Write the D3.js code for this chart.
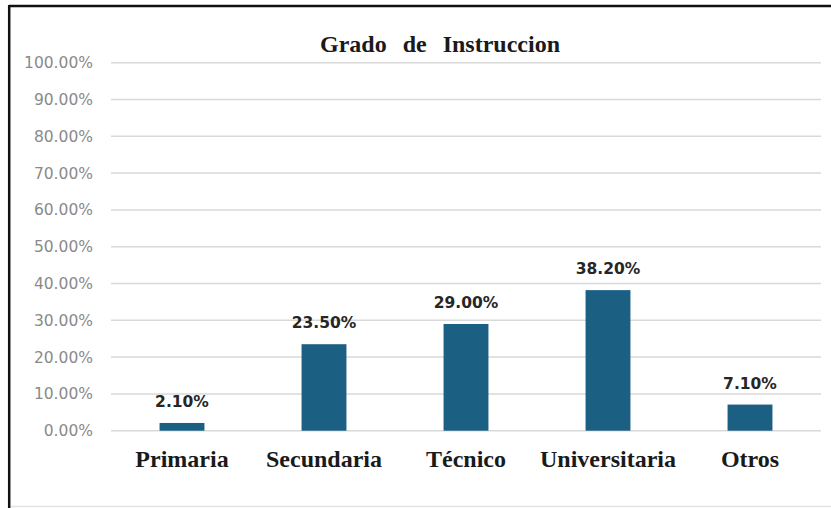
<!DOCTYPE html>
<html>
<head>
<meta charset="utf-8">
<script src="https://cdn.jsdelivr.net/npm/d3@7"></script>
<style>
  html, body { margin: 0; padding: 0; background: #ffffff; }
  svg { display: block; }
</style>
</head>
<body>
<svg id="chart" width="831" height="508"></svg>
<script>
const categories = ["Primaria", "Secundaria", "Técnico", "Universitaria", "Otros"];
const values = [0.021, 0.235, 0.29, 0.382, 0.071];
const yTicks = [0, 0.1, 0.2, 0.3, 0.4, 0.5, 0.6, 0.7, 0.8, 0.9, 1.0];
const title = "Grado de Instruccion";

const W = 831, H = 508;
const plot = { left: 111, right: 821, top: 62.7, bottom: 430.7 };

const svg = d3.select("#chart");

// frame
svg.append("rect").attr("x", 0).attr("y", 0).attr("width", W).attr("height", H).attr("fill", "#fff");
svg.append("line").attr("x1", 9).attr("x2", W).attr("y1", 6).attr("y2", 6)
  .attr("stroke", "#111").attr("stroke-width", 2.5);
svg.append("line").attr("x1", 9.2).attr("x2", 9.2).attr("y1", 5).attr("y2", H)
  .attr("stroke", "#111").attr("stroke-width", 2.5);
svg.append("line").attr("x1", 11).attr("x2", W).attr("y1", 506.5).attr("y2", 506.5)
  .attr("stroke", "#e3e3e3").attr("stroke-width", 1.5);

const x = d3.scaleBand().domain(categories).range([plot.left, plot.right]).paddingInner(0.684).paddingOuter(0.342);
const y = d3.scaleLinear().domain([0, 1]).range([plot.bottom, plot.top]);

// gridlines
svg.append("g").selectAll("line").data(yTicks).join("line")
  .attr("x1", plot.left).attr("x2", plot.right)
  .attr("y1", d => y(d)).attr("y2", d => y(d))
  .attr("stroke", "#d9d9d9").attr("stroke-width", 1.5);

// y axis labels
const yAxis = d3.axisLeft(y).tickValues(yTicks).tickFormat(d => (d * 100).toFixed(2) + "%").tickSize(0).tickPadding(0);
const gy = svg.append("g").attr("transform", "translate(93,0)").call(yAxis);
gy.select(".domain").remove();
gy.selectAll("text")
  .attr("fill", "#8a8a8a")
  .style("font-family", "'DejaVu Sans', sans-serif")
  .style("font-size", "15.5px");

// bars
svg.append("g").selectAll("rect").data(values).join("rect")
  .attr("x", (d, i) => x(categories[i]))
  .attr("width", x.bandwidth())
  .attr("y", d => y(d))
  .attr("height", d => y(0) - y(d))
  .attr("fill", "#1b5f82");

// value labels
svg.append("g").selectAll("text").data(values).join("text")
  .attr("x", (d, i) => x(categories[i]) + x.bandwidth() / 2)
  .attr("y", d => y(d) - 16)
  .attr("text-anchor", "middle")
  .attr("fill", "#262626")
  .style("font-family", "'DejaVu Sans', sans-serif")
  .style("font-weight", "bold")
  .style("font-size", "15.5px")
  .text(d => (d * 100).toFixed(2) + "%");

// category labels
const xAxis = d3.axisBottom(x).tickSize(0).tickPadding(0);
const gx = svg.append("g").attr("transform", "translate(0,467)").call(xAxis);
gx.select(".domain").remove();
gx.selectAll("text")
  .attr("dy", 0)
  .attr("y", 0)
  .attr("fill", "#1a1a1a")
  .style("font-family", "'Liberation Serif', 'Times New Roman', serif")
  .style("font-weight", "bold")
  .style("font-size", "24px");

// title
svg.append("text")
  .attr("x", 440).attr("y", 52)
  .attr("text-anchor", "middle")
  .attr("fill", "#1a1a1a")
  .style("font-family", "'Liberation Serif', 'Times New Roman', serif")
  .style("font-weight", "bold")
  .style("font-size", "24px")
  .style("word-spacing", "10px")
  .text(title);
</script>
</body>
</html>
